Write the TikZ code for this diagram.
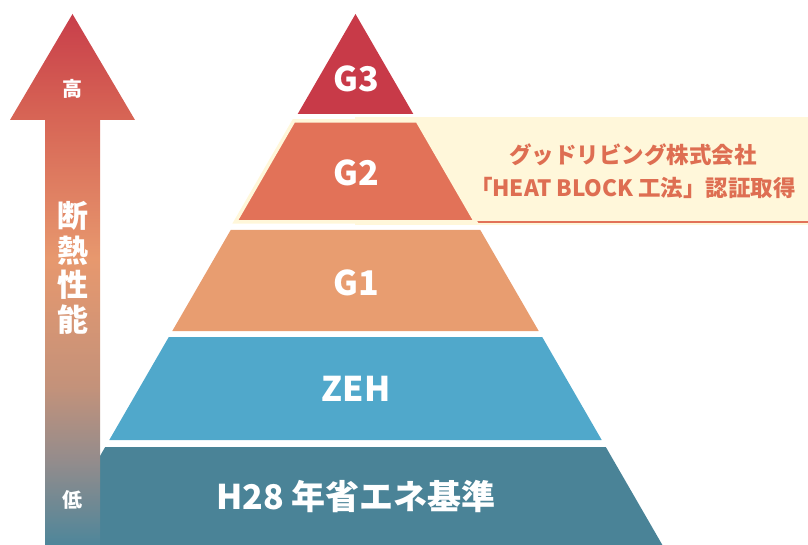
\documentclass[tikz,border=0pt]{standalone}
\usepackage{fontspec}
\setmainfont{Noto Sans CJK JP}
\definecolor{gthree}{RGB}{200,58,72}
\definecolor{gtwo}{RGB}{226,114,88}
\definecolor{gone}{RGB}{232,157,112}
\definecolor{zehc}{RGB}{80,168,203}
\definecolor{basec}{RGB}{74,131,151}
\definecolor{cream}{RGB}{255,247,218}
\definecolor{notec}{RGB}{222,110,82}
\definecolor{hc1}{RGB}{200,62,74}
\definecolor{hc2}{RGB}{214,98,84}
\definecolor{hc3}{RGB}{231,152,110}
\definecolor{hc4}{RGB}{196,146,122}
\definecolor{hc5}{RGB}{148,140,140}
\definecolor{hc6}{RGB}{78,134,154}
\pgfdeclareverticalshading{heat}{100bp}{color(0bp)=(hc6); color(25bp)=(hc6);
  color(33bp)=(hc5); color(40bp)=(hc4); color(52bp)=(hc3); color(66bp)=(hc2);
  color(75bp)=(hc1); color(100bp)=(hc1)}
\tikzset{
  lbl/.style={text=white, font=\fontsize{34}{36}\selectfont\bfseries, inner sep=0pt},
  side/.style={text=white, inner sep=0pt}
}
\begin{document}
\begin{tikzpicture}[x=1pt,y=-1pt]
  \useasboundingbox (0,0) rectangle (808,545);
  % banner behind G2
  \fill[cream] (355,117) rectangle (808,225);
  \draw[gtwo, line width=2.5pt] (475,222) -- (808,222);
  % pyramid
  \fill[gthree] (355.5,14) -- (413.3,114) -- (297.7,114) -- cycle;
  \filldraw[fill=gtwo, draw=cream, line width=3.5pt, line join=miter]
    (293.7,121) -- (417.3,121) -- (475.7,222) -- (235.3,222) -- cycle;
  \fill[gone] (230.7,230) -- (480.3,230) -- (538.7,331) -- (172.3,331) -- cycle;
  \fill[zehc] (168.8,337) -- (542.2,337) -- (601.7,440) -- (109.3,440) -- cycle;
  \fill[basec] (105.2,447) -- (605.8,447) -- (662.4,545) -- (48.6,545) -- cycle;
  \node[lbl] (g3) at (356,79) {G3};
  \node[lbl] (g2) at (356,173) {G2};
  \node[lbl] (g1) at (356,283) {G1};
  \node[lbl] (zeh) at (356,389) {ZEH};
  \node[lbl, font=\fontsize{34}{36}\selectfont\bfseries] (h28) at (356,497) {H28 年省エネ基準};
  \node[text=notec, align=center, inner sep=0pt,
    font=\fontsize{22.5}{33.5}\selectfont\bfseries] (note) at (633,171)
    {グッドリビング株式会社\\「HEAT BLOCK 工法」認証取得};
  % performance arrow
  \shade[shading=heat] (45,545) -- (45,120) -- (10,120) -- (72.5,14)
    -- (135,120) -- (100,120) -- (100,545) -- cycle;
  \node[side, font=\fontsize{20}{22}\selectfont\bfseries] (high) at (72.5,89) {高};
  \node[side, align=center, font=\fontsize{31}{34.5}\selectfont\bfseries] (axis) at (72.5,268) {断\\熱\\性\\能};
  \node[side, font=\fontsize{20}{22}\selectfont\bfseries] (low) at (72.5,500) {低};
\end{tikzpicture}
\end{document}
